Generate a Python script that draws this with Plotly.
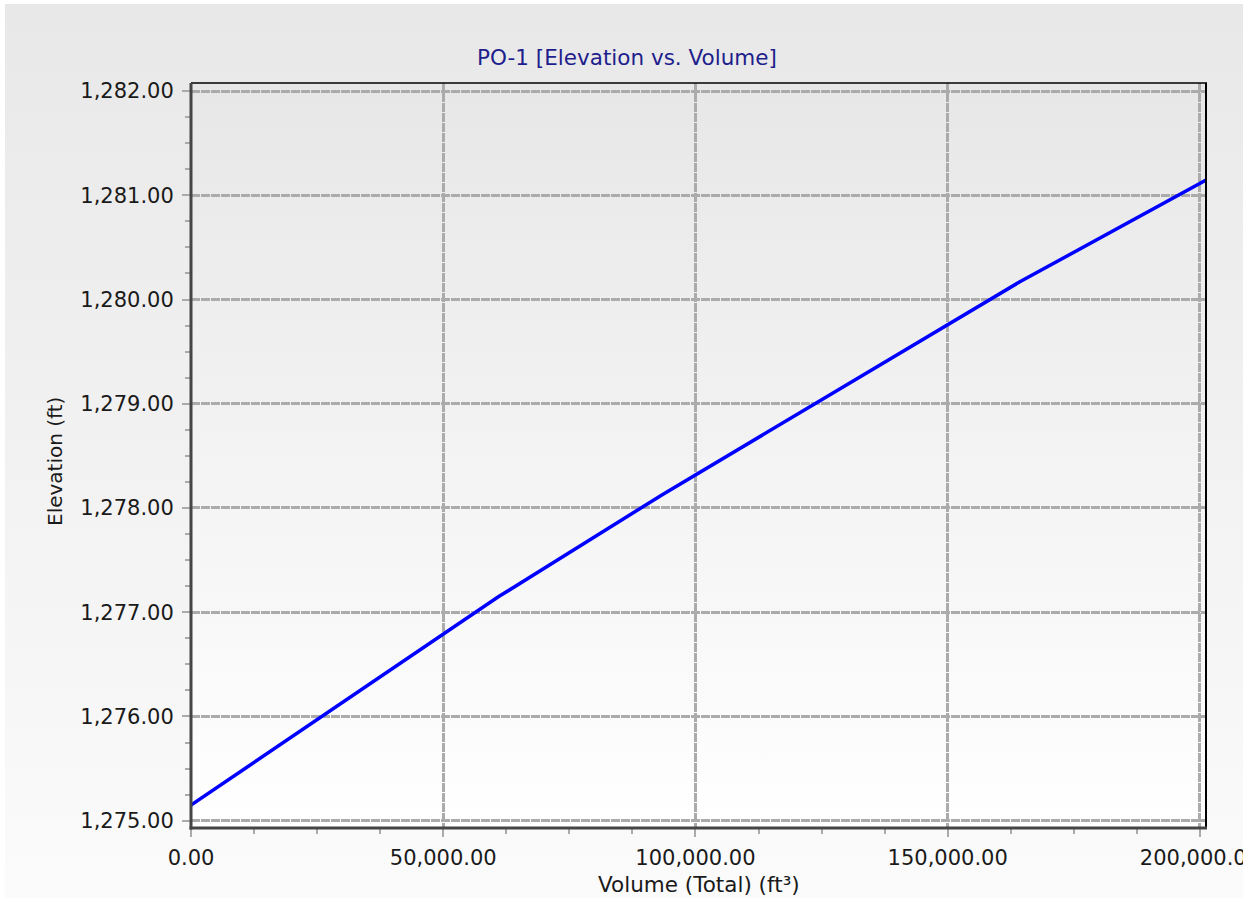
import base64
import plotly.graph_objects as go

# ---- data ----
volume = [0, 61000, 93500, 164300, 201400]
elevation = [1275.15, 1277.15, 1278.13, 1280.17, 1281.15]
x_ticks = [0, 50000, 100000, 150000, 200000]
y_ticks = [1275, 1276, 1277, 1278, 1279, 1280, 1281, 1282]
title_text = "PO-1 [Elevation vs. Volume]"
x_title = "Volume (Total) (ft³)"
y_title = "Elevation (ft)"

# ---- layout geometry (pixels) ----
W_FIG, H_FIG = 1254, 903
L, R, T, B = 191, 1207, 83, 828
PW, PH = R - L, B - T


def px(x):
    return (x - L) / PW


def py(y):
    return (B - y) / PH


def grad_svg(c0, c1):
    svg = ('<svg xmlns="http://www.w3.org/2000/svg" width="100" height="100" '
           'viewBox="0 0 100 100" preserveAspectRatio="none"><defs>'
           '<linearGradient id="g" x1="0" y1="0" x2="0" y2="1">'
           f'<stop offset="0" stop-color="{c0}"/><stop offset="1" stop-color="{c1}"/>'
           '</linearGradient></defs><rect width="100" height="100" fill="url(#g)"/></svg>')
    return "data:image/svg+xml;base64," + base64.b64encode(svg.encode()).decode()


FONT = "DejaVu Sans"
TXT = "#1a1a1a"

fig = go.Figure()
fig.add_trace(go.Scatter(x=volume, y=elevation, mode="lines",
                         line=dict(color="#0000ff", width=3.5), showlegend=False,
                         hoverinfo="skip"))

fig.update_layout(
    width=W_FIG, height=H_FIG,
    margin=dict(l=L, r=W_FIG - R, t=T, b=H_FIG - B, autoexpand=False),
    paper_bgcolor="#ffffff",
    plot_bgcolor="rgba(0,0,0,0)",
    font=dict(family=FONT, size=20, color=TXT),
    title=dict(text=title_text, x=0.5, xref="container", xanchor="center",
               y=1 - 57 / H_FIG, yref="container", yanchor="middle",
               font=dict(family=FONT, size=21.5, color="#1e1e8c")),
    images=[
        dict(source=grad_svg("#e8e8e8", "#fbfbfb"), xref="paper", yref="paper",
             x=px(5), y=py(4), sizex=(1243 - 5) / PW, sizey=(898 - 4) / PH,
             xanchor="left", yanchor="top", sizing="stretch", layer="below"),
        dict(source=grad_svg("#e7e7e7", "#ffffff"), xref="paper", yref="paper",
             x=0, y=1, sizex=1, sizey=1,
             xanchor="left", yanchor="top", sizing="stretch", layer="below"),
    ],
)

fig.update_xaxes(
    range=[0, 201400], tickvals=x_ticks, tickformat=",.2f",
    showgrid=True, gridcolor="#ababab", gridwidth=3, griddash="9px,1px",
    zeroline=False, showline=False, automargin=False,
    ticks="outside", ticklen=8, tickwidth=2, tickcolor="#aaaaaa",
    ticklabelstandoff=3, ticklabeloverflow="allow",
    tickfont=dict(family=FONT, size=21, color=TXT),
    minor=dict(dtick=12500, tick0=0, ticks="outside", ticklen=5, tickwidth=1.5,
               tickcolor="#aaaaaa", showgrid=False),
)
fig.update_yaxes(
    range=[1274.93, 1282.077], tickvals=y_ticks, tickformat=",.2f",
    showgrid=True, gridcolor="#ababab", gridwidth=3, griddash="9px,1px",
    zeroline=False, showline=False, automargin=False,
    ticks="outside", ticklen=8, tickwidth=2, tickcolor="#aaaaaa",
    ticklabelstandoff=4,
    tickfont=dict(family=FONT, size=21, color=TXT),
    minor=dict(dtick=0.25, tick0=1275, ticks="outside", ticklen=5, tickwidth=1.5,
               tickcolor="#aaaaaa", showgrid=False),
)

# axis titles
fig.add_annotation(text=x_title, xref="paper", yref="paper", x=0.5, y=py(884),
                   xanchor="center", yanchor="middle", showarrow=False,
                   font=dict(family=FONT, size=21.5, color=TXT))
fig.add_annotation(text=y_title, xref="paper", yref="paper", x=px(55), y=py(462),
                   xanchor="center", yanchor="middle", showarrow=False, textangle=-90,
                   font=dict(family=FONT, size=20, color=TXT))

# plot frame: thick dark left/bottom, thin black top/right
fig.add_shape(type="line", xref="paper", yref="paper", x0=px(R - 1), x1=px(R - 1), y0=0, y1=1,
              line=dict(color="#000000", width=2), layer="above")
fig.add_shape(type="line", xref="paper", yref="paper", x0=0, x1=1, y0=py(T), y1=py(T),
              line=dict(color="#000000", width=1.5), layer="above")
fig.add_shape(type="line", xref="paper", yref="paper", x0=0, x1=0, y0=py(B + 1.5), y1=1,
              line=dict(color="#454545", width=3), layer="above")
fig.add_shape(type="line", xref="paper", yref="paper", x0=px(L - 1.5), x1=1, y0=0, y1=0,
              line=dict(color="#454545", width=3), layer="above")
# white strip on the right that clips the last tick label like the reference
fig.add_shape(type="rect", xref="paper", yref="paper", x0=px(1243), x1=px(1260),
              y0=py(910), y1=py(-10), fillcolor="#ffffff", line=dict(width=0), layer="above")

fig.write_html("out.html", config={"displayModeBar": False},
               post_script="document.body.style.margin='0';document.body.style.overflow='hidden';")
